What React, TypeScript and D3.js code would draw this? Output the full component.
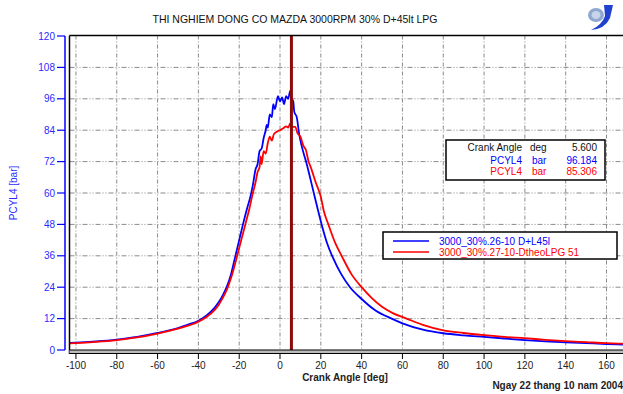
import React from "react";
import * as d3 from "d3";

const W = 623;
const H = 394;

const title = "THI NGHIEM DONG CO MAZDA 3000RPM 30% D+45lt LPG";
const xTicks = [-100, -80, -60, -40, -20, 0, 20, 40, 60, 80, 100, 120, 140, 160];
const yTicks = [0, 12, 24, 36, 48, 60, 72, 84, 96, 108, 120];
const cursorAngle = 5.6;
const seriesNames = ["3000_30%.26-10 D+L45l", "3000_30%.27-10-DtheoLPG 51"];
const seriesColors = ["#0000ff", "#ff0000"];
const cursorValues = ["96.184", "85.306"];

const blueAngles = [-103, -100, -90, -80, -70, -60, -50, -45, -40, -36, -32, -30, -28, -26, -24, -22, -20, -18, -16, -14.7, -13.3, -12, -11, -10, -9, -8, -7, -6.5, -6, -5, -4, -3.3, -2.5, -1, 0, 1, 2, 3, 4, 5, 5.6, 6.5, 7, 8.2, 9.5, 10.6, 12, 13, 14.7, 17, 20.4, 23, 26.1, 30, 34.3, 40, 47, 54.7, 60, 70, 80, 90, 100, 110, 120, 130, 140, 150, 160, 168];
const bluePressure = [2.7, 2.8, 3.3, 4.0, 5.0, 6.5, 8.4, 9.7, 11.2, 13.2, 16.2, 18.3, 21, 24.3, 29, 35.5, 42, 48.5, 54.5, 58, 63, 69, 71, 76, 77, 81, 84, 86, 85, 90, 89, 94, 92, 97, 95, 96.5, 94, 97, 96, 99, 96.2, 95, 91, 89, 82, 78, 74, 71.4, 66, 58.6, 48, 41, 35, 29, 24, 19.5, 15, 12, 10.2, 7.8, 6.4, 5.6, 5.0, 4.4, 3.8, 3.3, 2.9, 2.6, 2.3, 2.1];

const redAngles = [-103, -100, -90, -80, -70, -60, -50, -40, -36, -32, -30, -28, -26, -24, -22, -21, -19, -17, -15, -13.3, -12, -11, -10, -9.5, -9, -8, -7, -6, -5, -4, -3, -1.6, 0, 1.6, 3, 4, 5, 5.6, 7.5, 8.5, 10, 11.5, 12.7, 14, 15, 17.6, 20, 21.5, 23.7, 27, 30.2, 35, 40, 45, 50, 55, 62, 70, 80, 90, 100, 110, 120, 130, 140, 150, 160, 168];
const redPressure = [2.5, 2.6, 3.1, 3.8, 4.8, 6.3, 8.2, 10.8, 12.6, 15.3, 17.3, 20, 23.2, 27.5, 33, 36, 42, 48, 54, 60, 64, 68, 70, 74, 71, 76, 75, 79, 81.5, 80, 82.5, 83.4, 84, 84.7, 85.5, 85, 86.6, 85.3, 85.3, 83, 81.5, 78, 76.4, 72, 70, 63.8, 58.6, 53, 48, 41, 36, 29, 24, 19.8, 16.5, 14.2, 12, 9.6, 7.5, 6.5, 5.7, 5.0, 4.5, 3.9, 3.4, 3.0, 2.6, 2.4];

const FONT = "Arial, 'Liberation Sans', Helvetica, sans-serif";

export default function App() {
  const x = d3.scaleLinear().domain([0, 160]).range([280, 606.5]);
  const y = d3.scaleLinear().domain([0, 120]).range([350, 36]);
  const plotL = 69.5, plotT = 35.5, plotR = 623, plotB = 350;

  const line = d3
    .line<[number, number]>()
    .x((d) => x(d[0]))
    .y((d) => y(d[1]))
    .curve(d3.curveMonotoneX);

  const blue = blueAngles.map((a, i) => [a, bluePressure[i]] as [number, number]);
  const red = redAngles.map((a, i) => [a, redPressure[i]] as [number, number]);

  return (
    <svg width={W} height={H} style={{ position: "absolute", left: 0, top: 0, background: "#fff" }} fontFamily={FONT}>
      <defs>
        <clipPath id="plotclip">
          <rect x={plotL} y={plotT} width={plotR - plotL} height={plotB - plotT} />
        </clipPath>
      </defs>
      <rect x={0} y={0} width={W} height={H} fill="#fff" />
      <text x={295} y={23} textAnchor="middle" fontSize={10.5} fill="#111">{title}</text>

      {/* logo */}
      <g>
        <ellipse cx={596} cy={15} rx={8} ry={7} fill="#8fa8d0" />
        <ellipse cx={596} cy={15} rx={4.5} ry={4} fill="#c8d4ea" />
        <path d="M604,5 L613,5 L610,18 Q605,29 591,30 Q602,25 605,16 Z" fill="#2040d0" />
      </g>

      {/* grid */}
      <g clipPath="url(#plotclip)">
        {xTicks.map((t) => (
          <line key={"gx" + t} x1={x(t)} x2={x(t)} y1={plotT} y2={plotB} stroke="#8a8a8a" strokeWidth={1} strokeDasharray="4,2,1,2" />
        ))}
        {yTicks.filter((t) => t > 0 && t < 120).map((t) => (
          <line key={"gy" + t} x1={plotL} x2={plotR} y1={y(t)} y2={y(t)} stroke="#8a8a8a" strokeWidth={1} strokeDasharray="5,2,1,2,1,2" />
        ))}
      </g>

      {/* curves */}
      <g clipPath="url(#plotclip)">
        <path d={line(blue) || ""} fill="none" stroke={seriesColors[0]} strokeWidth={1.8} strokeLinejoin="round" />
        <path d={line(red) || ""} fill="none" stroke={seriesColors[1]} strokeWidth={1.8} strokeLinejoin="round" />
      </g>

      {/* cursor line */}
      <line x1={x(cursorAngle)} x2={x(cursorAngle)} y1={plotT} y2={353} stroke="#8b0a0a" strokeWidth={3} />

      {/* frame */}
      <line x1={plotL} x2={plotR} y1={plotT} y2={plotT} stroke="#000" strokeWidth={1.5} />
      <line x1={plotL} x2={plotL} y1={plotT} y2={354} stroke="#000" strokeWidth={1.5} />
      <rect x={plotL} y={350} width={plotR - plotL} height={3.5} fill="#bbb" />
      <line x1={plotL} x2={plotR} y1={350} y2={350} stroke="#000" strokeWidth={1.2} />
      <line x1={plotL} x2={plotR} y1={353.5} y2={353.5} stroke="#000" strokeWidth={1.2} />

      {/* y axis */}
      <line x1={65} x2={65} y1={y(120)} y2={y(0)} stroke="#0000ff" strokeWidth={1.5} />
      {yTicks.map((t) => (
        <g key={"yt" + t}>
          <line x1={57} x2={65} y1={y(t)} y2={y(t)} stroke="#0000ff" strokeWidth={1.2} />
          <text x={55} y={y(t)} dy="0.35em" textAnchor="end" fontSize={10} fill="#2a2aff">{t}</text>
        </g>
      ))}
      <text transform="translate(17,193) rotate(-90)" textAnchor="middle" fontSize={10} fill="#2a2aff">PCYL4 [bar]</text>

      {/* x axis */}
      {xTicks.map((t) => (
        <g key={"xt" + t}>
          <line x1={x(t)} x2={x(t)} y1={353.5} y2={359} stroke="#000" strokeWidth={1} />
          <text x={x(t)} y={369} textAnchor="middle" fontSize={10} fill="#222">{t}</text>
        </g>
      ))}
      <text x={345} y={381} textAnchor="middle" fontSize={10} fontWeight="bold" fill="#222">Crank Angle [deg]</text>
      <text x={623} y={389} textAnchor="end" fontSize={10} fontWeight="bold" fill="#222">Ngay 22 thang 10 nam 2004</text>

      {/* cursor info box */}
      <rect x={446} y={140} width={159} height={40} fill="#fff" stroke="#000" strokeWidth={1.5} />
      <g fontSize={10}>
        <text x={522} y={151} textAnchor="end" fill="#111">Crank Angle</text>
        <text x={530} y={151} fill="#111">deg</text>
        <text x={597} y={151} textAnchor="end" fill="#111">5.600</text>
        {[0, 1].map((i) => (
          <g key={"cv" + i} fill={seriesColors[i]}>
            <text x={522} y={164 + i * 11} textAnchor="end">PCYL4</text>
            <text x={532} y={164 + i * 11}>bar</text>
            <text x={597} y={164 + i * 11} textAnchor="end">{cursorValues[i]}</text>
          </g>
        ))}
      </g>

      {/* legend */}
      <rect x={383} y={232} width={234} height={27} fill="#fff" stroke="#000" strokeWidth={1.5} />
      {seriesNames.map((n, i) => (
        <g key={"lg" + i}>
          <line x1={393} x2={429} y1={241 + i * 11} y2={241 + i * 11} stroke={seriesColors[i]} strokeWidth={1.5} />
          <text x={439} y={241 + i * 11} dy="0.35em" fontSize={10} fill={seriesColors[i]}>{n}</text>
        </g>
      ))}
    </svg>
  );
}
